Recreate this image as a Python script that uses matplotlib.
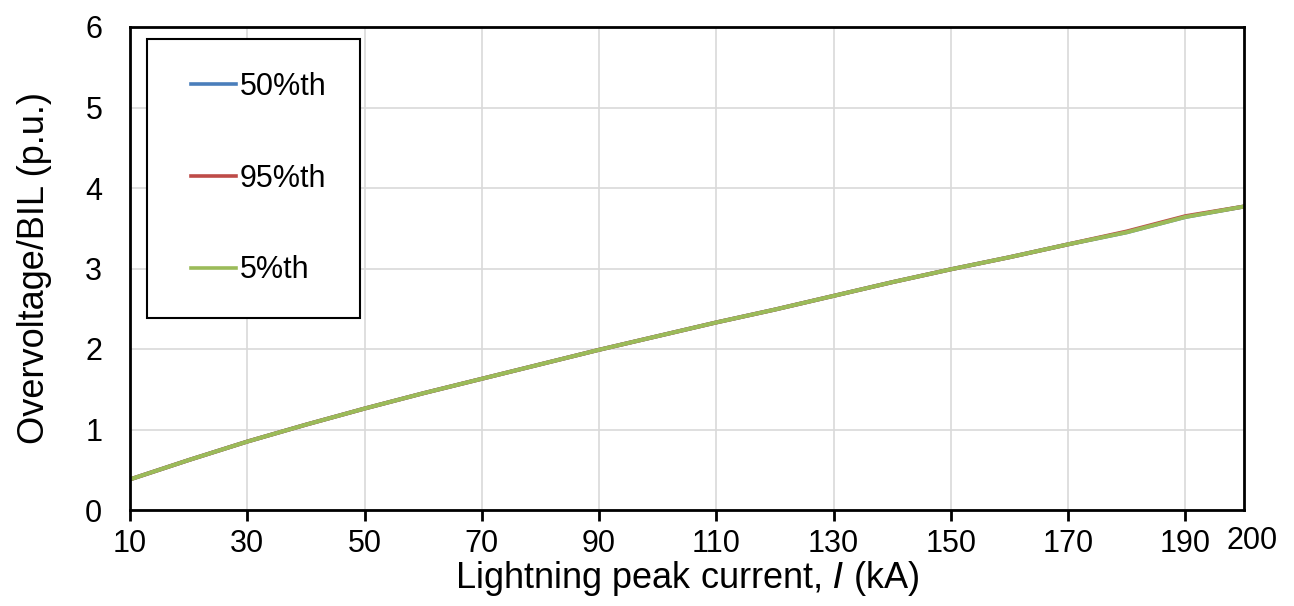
import matplotlib.pyplot as plt
import matplotlib.transforms as mtransforms
from matplotlib.legend_handler import HandlerLine2D
from matplotlib.lines import Line2D

plt.rcParams['font.family'] = ['Liberation Sans', 'DejaVu Sans']

current = [10, 20, 30, 40, 50, 60, 70, 80, 90, 100, 110, 120, 130, 140, 150, 160, 170, 180, 190, 200]
p50 = [0.38, 0.62, 0.85, 1.06, 1.26, 1.45, 1.63, 1.81, 1.99, 2.16, 2.33, 2.49, 2.66, 2.83, 2.99, 3.14, 3.30, 3.45, 3.64, 3.77]
p95 = [0.38, 0.62, 0.85, 1.06, 1.26, 1.45, 1.63, 1.81, 1.99, 2.16, 2.33, 2.49, 2.66, 2.83, 2.99, 3.14, 3.30, 3.46, 3.65, 3.77]
p5 = [0.38, 0.62, 0.85, 1.06, 1.26, 1.45, 1.63, 1.81, 1.99, 2.16, 2.33, 2.49, 2.66, 2.83, 2.99, 3.14, 3.30, 3.45, 3.64, 3.77]
xticks = [10, 30, 50, 70, 90, 110, 130, 150, 170, 190, 200]

fig = plt.figure(figsize=(12.94, 6.06), dpi=100)
ax = fig.add_axes([130 / 1294, 1 - 510 / 606, (1244 - 130) / 1294, (510 - 27) / 606])

ax.plot(current, p50, color='#4A7EBB', lw=2.9, label='50%th')
ax.plot(current, p95, color='#BE4B48', lw=2.9, label='95%th')
ax.plot(current, p5, color='#9BBB59', lw=2.9, label='5%th')

ax.set_xlim(10, 200)
ax.set_ylim(0, 6)
ax.set_xticks(xticks)
ax.set_yticks(range(7))
ax.grid(True, color='#D9D9D9', lw=1.2)
ax.set_axisbelow(True)
for s in ax.spines.values():
    s.set_linewidth(2)
    s.set_color('black')
ax.tick_params(axis='x', direction='out', length=8, width=2, labelsize=22, pad=6)
ax.tick_params(axis='y', length=0, labelsize=22, pad=20)

last = ax.xaxis.get_major_ticks()[-1]
last.tick1line.set_visible(False)
last.gridline.set_visible(False)
off = mtransforms.ScaledTranslation(8 / 100, 3 / 100, fig.dpi_scale_trans)
last.label1.set_transform(last.label1.get_transform() + off)

ax.set_xlabel('Lightning peak current, $\\it{I}$ (kA)', fontsize=26, labelpad=0)
ax.set_ylabel('Overvoltage/BIL (p.u.)', fontsize=26, labelpad=24)

hmap = {Line2D: HandlerLine2D(xpad=0.36)}
leg = ax.legend(loc='upper left', bbox_to_anchor=(17 / 1114, 1 - 12 / 483), fontsize=22,
                frameon=True, fancybox=False, handlelength=1.83, handletextpad=0.13,
                labelspacing=2.02, borderpad=1.08, borderaxespad=0, handler_map=hmap)
leg.get_frame().set_edgecolor('black')
leg.get_frame().set_linewidth(1.5)
leg.get_frame().set_alpha(1)
for ln in leg.get_lines():
    ln.set_linewidth(2.6)

fig.savefig('out.png', dpi=100)
